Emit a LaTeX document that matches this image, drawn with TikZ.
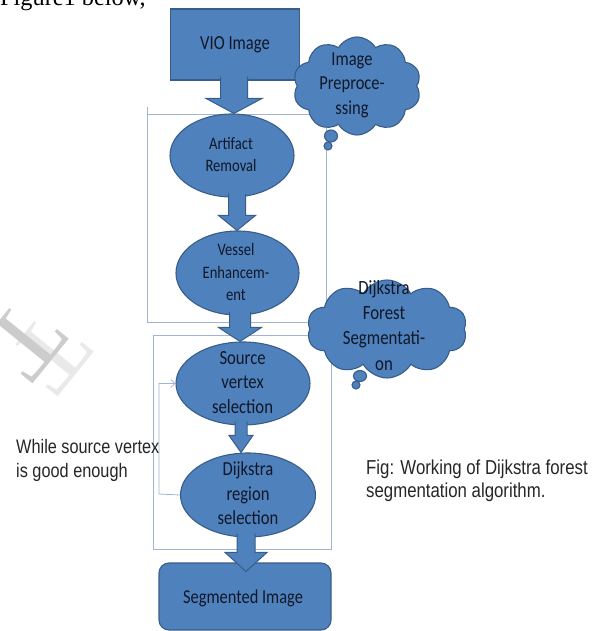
\documentclass[tikz,border=0pt]{standalone}
\usepackage{graphicx}
\usepackage{fontspec}
\setmainfont{Carlito}
\newfontfamily\arialf{Liberation Sans}
\newfontfamily\timesf{Liberation Serif}
\usetikzlibrary{shapes.geometric,shapes.symbols,arrows.meta,calc}
\definecolor{boxblue}{RGB}{79,129,189}
\definecolor{boxedge}{RGB}{56,93,138}
\definecolor{framec}{RGB}{160,180,212}
\definecolor{txtc}{RGB}{16,24,40}
% stretched centred text: size, baselineskip (before stretch), lines
\newcommand\stx[3]{\scalebox{1}[1.2]{\fontsize{#1}{#2}\selectfont\begin{tabular}{@{}c@{}}#3\end{tabular}}}
% stretched left text in Arial-like font
\newcommand\ltx[3]{\scalebox{1}[1.2]{\arialf\fontsize{#1}{#2}\selectfont\begin{tabular}{@{}l@{}}#3\end{tabular}}}
% block arrow: from, to, x, shaft half width, head half width, head length, overshoot
\newcommand\barrow[7]{%
  \path[barrowsty] let \p1=(#1.south), \p2=(#2.north) in
    ({(#3-#4)*1pt},{\y1+4pt}) -- ({(#3-#4)*1pt},{\y2+(#6-#7)*1pt})
    -- ({(#3-#5)*1pt},{\y2+(#6-#7)*1pt}) -- ({#3*1pt},{\y2-#7*1pt})
    -- ({(#3+#5)*1pt},{\y2+(#6-#7)*1pt}) -- ({(#3+#4)*1pt},{\y2+(#6-#7)*1pt})
    -- ({(#3+#4)*1pt},{\y1+4pt});}
\begin{document}
\begin{tikzpicture}[x=1pt,y=-1pt,
  fillshape/.style={fill=boxblue, draw=boxedge, line width=1.1pt, inner sep=0pt},
  ellip/.style={fillshape, ellipse},
  boxsq/.style={fillshape, rectangle},
  cloudy/.style={fillshape, cloud, cloud puffs=10, cloud puff arc=120},
  frame/.style={draw=framec, line width=0.8pt},
  barrowsty/.style={fill=boxblue, draw=boxedge, line width=1pt, line join=miter},
  txt/.style={inner sep=0pt, text=txtc},
  plain/.style={inner sep=0pt, text=black!85},
  wmark/.style={rotate=-129, anchor=base west, inner sep=0pt,
      font=\timesf\fontsize{100}{100}\selectfont}]
\useasboundingbox (0,0) rectangle (592,631);
\clip (0,0) rectangle (592,631);
% watermark
\node[wmark, text=gray!17] (wmb) at (45,309) {T};
\node[wmark, text=gray!40] (wma) at (20,296) {T};
% top line of page text
\node[anchor=base west, inner sep=0pt, text=black,
      font=\timesf\fontsize{24.3}{28}\selectfont] (toptxt) at (0,6) {Figure1 below,};
% frames
\draw[frame] (147.5,107) -- (147.5,322) -- (326,322) -- (326,114) -- (147.5,114);
\draw[frame] (153,335) rectangle (331.5,549);
% shapes
\node[boxsq, minimum width=129, minimum height=71] (vio) at (235,44.5) {};
\node[ellip, minimum width=124, minimum height=83] (art) at (232,155.5) {};
\node[ellip, minimum width=123, minimum height=84] (ves) at (237.5,273) {};
\node[ellip, minimum width=134, minimum height=83] (src) at (243,383.5) {};
\node[ellip, minimum width=135, minimum height=84] (dij) at (248,495) {};
\node[boxsq, rounded corners=10pt, minimum width=172, minimum height=67] (seg) at (245,596.5) {};
% loop connector
\coordinate (lpa) at (159,494);
\draw[frame, -{Straight Barb[length=4pt,width=8pt]}] (dij.west) -- (lpa) |- (src.west);
% block arrows
\barrow{vio}{art}{234}{13.5}{28}{15}{0}
\barrow{art}{ves}{237}{8.5}{18.5}{15}{0}
\barrow{ves}{src}{240}{10.5}{21.5}{14}{0}
\barrow{src}{dij}{241}{6}{12}{17}{0}
\barrow{dij}{seg}{246}{9}{21}{19}{9}
% clouds
\node[cloudy, minimum width=128, minimum height=98] (cl1) at (357,86) {};
\node[fillshape, ellipse, minimum width=13, minimum height=12] (cl1a) at (331,136) {};
\node[fillshape, ellipse, minimum width=8, minimum height=8] (cl1b) at (328,146) {};
\node[cloudy, minimum width=160, minimum height=98] (cl2) at (387,329) {};
\node[fillshape, ellipse, minimum width=13, minimum height=11] (cl2a) at (360,376) {};
\node[fillshape, ellipse, minimum width=8, minimum height=8] (cl2b) at (356,385) {};
% texts
\node[txt] (vio-t) at (235,45) {\stx{16.6}{20}{VIO Image}};
\node[txt] (art-t) at (231,156) {\stx{14.6}{18.3}{Artifact\\Removal}};
\node[txt] (ves-t) at (236,273.5) {\stx{14.6}{18.75}{Vessel\\Enhancem-\\ent}};
\node[txt] (src-t) at (242.6,384) {\stx{16.7}{20.8}{Source\\vertex\\selection}};
\node[txt] (dij-t) at (248,495.5) {\stx{16.6}{20.4}{Dijkstra\\region\\selection}};
\node[txt] (seg-t) at (243,599) {\stx{16.4}{20}{Segmented Image}};
\node[txt] (cl1-t) at (352,85) {\stx{16.5}{20.8}{Image\\Preproce-\\ssing}};
\node[txt] (cl2-t) at (384,327) {\stx{16.8}{21.1}{Dijkstra\\Forest\\Segmentati-\\on}};
\node[plain, anchor=west] (loopnote) at (16,461) {\ltx{16.3}{20}{While source vertex\\is good enough}};
\node[plain, anchor=west] (caption) at (366,481.5) {\ltx{16.8}{19.2}{Fig: Working of Dijkstra forest\\segmentation algorithm.}};
\end{tikzpicture}
\end{document}
